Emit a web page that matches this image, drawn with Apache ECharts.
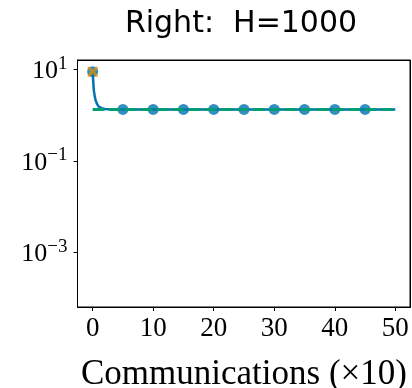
<!DOCTYPE html>
<html><head><meta charset="utf-8">
<script src="https://cdn.jsdelivr.net/npm/echarts@6/dist/echarts.min.js"></script>
<style>html,body{margin:0;padding:0;background:#fff}#c{width:412px;height:388px}#err{position:absolute;left:0;top:0;font:9px sans-serif;color:red;width:412px}</style>
</head><body><div id="c"></div><div id="err"></div>
<script>
const titleText = 'Right:  H=1000';
const xAxisName = 'Communications (\u00d710)';
const xTicks = [0, 10, 20, 30, 40, 50];
const yTicks = [10, 0.1, 0.001];
const xRange = [-2.5, 52.5];
const yRange = [6.4e-5, 16.2];
// blue curve (dense near start)
const blueX = [0, 0.1, 0.2, 0.35, 0.5, 0.75, 1.0, 1.5, 2, 3, 5, 10, 15, 20, 25, 30, 35, 40, 45, 50];
const blueY = [9, 5.5, 3.5, 2.6, 2.1, 1.75, 1.55, 1.43, 1.38, 1.35, 1.34, 1.34, 1.34, 1.34, 1.34, 1.34, 1.34, 1.34, 1.34, 1.34];
const markerX = [0, 5, 10, 15, 20, 25, 30, 35, 40, 45];
const markerY = [9, 1.34, 1.34, 1.34, 1.34, 1.34, 1.34, 1.34, 1.34, 1.34];
const greenX = [0, 5, 10, 15, 20, 25, 30, 35, 40, 45, 50];
const greenY = [1.34, 1.34, 1.34, 1.34, 1.34, 1.34, 1.34, 1.34, 1.34, 1.34, 1.34];
const orangeX = [0];
const orangeY = [9];

const W = 412, H = 388;
const G = {left: 77.5, right: 1.5, top: 60, bottom: 81};
const zip = (a, b) => a.map((v, i) => [v, b[i]]);
const serif = 'Liberation Serif';
const errBox = document.getElementById('err');
window.onerror = (m) => { errBox.textContent += ' ' + m; };
const chart = echarts.init(document.getElementById('c'));
const xPath = 'path://M0,0 L2,0 L5,3 L8,0 L10,0 L10,2 L7,5 L10,8 L10,10 L8,10 L5,7 L2,10 L0,10 L0,8 L3,5 L0,2 Z';
const boxLine = () => ({show: true, onZero: false, lineStyle: {color: '#000', width: 1}});
try {
chart.setOption({
  animation: false,
  title: {
    text: titleText, left: 236, top: 4, textAlign: 'center',
    textStyle: {fontFamily: 'DejaVu Sans', fontWeight: 'normal', fontSize: 30, color: '#000'}
  },
  grid: Object.assign({outerBoundsMode: 'none', show: true, borderColor: '#000', borderWidth: 1}, G),
  xAxis: {
    type: 'value', min: xRange[0], max: xRange[1],
    splitLine: {show: false},
    axisLine: boxLine(),
    axisTick: {show: true, inside: false, length: 4, lineStyle: {color: '#000'}, customValues: xTicks},
    axisLabel: {customValues: xTicks, margin: 8, fontFamily: serif, fontSize: 27, color: '#000'},
    name: xAxisName, nameLocation: 'middle', nameGap: 50,
    nameTextStyle: {fontFamily: serif, fontSize: 35, color: '#000'}
  },
  yAxis: {
    type: 'log', logBase: 10, min: yRange[0], max: yRange[1],
    splitLine: {show: false},
    axisLine: boxLine(),
    axisTick: {show: true, inside: false, length: 4, lineStyle: {color: '#000'}, customValues: yTicks},
    axisLabel: {
      customValues: yTicks, margin: 10,
      formatter: v => {
        const e = Math.round(Math.log10(v));
        return '{b|10}{s|' + (e < 0 ? '\u2212' + (-e) : e) + '}';
      },
      rich: {
        b: {fontFamily: serif, fontSize: 26, color: '#000', lineHeight: 30, verticalAlign: 'bottom'},
        s: {fontFamily: serif, fontSize: 19, color: '#000', verticalAlign: 'top', lineHeight: 18}
      }
    }
  },
  series: [
    {type: 'line', data: zip(blueX, blueY), showSymbol: false, symbol: 'none',
     lineStyle: {color: '#0173B2', width: 2.5}, z: 2},
    {type: 'scatter', data: zip(markerX, markerY), symbol: 'circle', symbolSize: 11,
     itemStyle: {color: '#0173B2'}, z: 3},
    {type: 'line', data: zip(greenX, greenY), symbol: 'none',
     lineStyle: {color: '#029E73', width: 3, type: [12, 4]}, z: 4},
    {type: 'scatter', data: zip(orangeX, orangeY), symbol: xPath, symbolSize: 10,
     itemStyle: {color: '#DE8F05'}, z: 5}
  ]
});
} catch (e) { errBox.textContent += ' A:' + e.message; }
try {
// plot-area frame (layout only, from the grid margins)
chart.setOption({
  graphic: [
    {type: 'line', silent: true, z: 100, shape: {x1: G.left, y1: G.top + 0.5, x2: W - G.right, y2: G.top + 0.5}, style: {stroke: '#000', lineWidth: 1}},
    {type: 'line', silent: true, z: 100, shape: {x1: W - G.right - 0.5, y1: G.top, x2: W - G.right - 0.5, y2: H - G.bottom}, style: {stroke: '#000', lineWidth: 1}}
  ]
});
} catch (e) { errBox.textContent += ' B:' + e.message; }
</script></body></html>
